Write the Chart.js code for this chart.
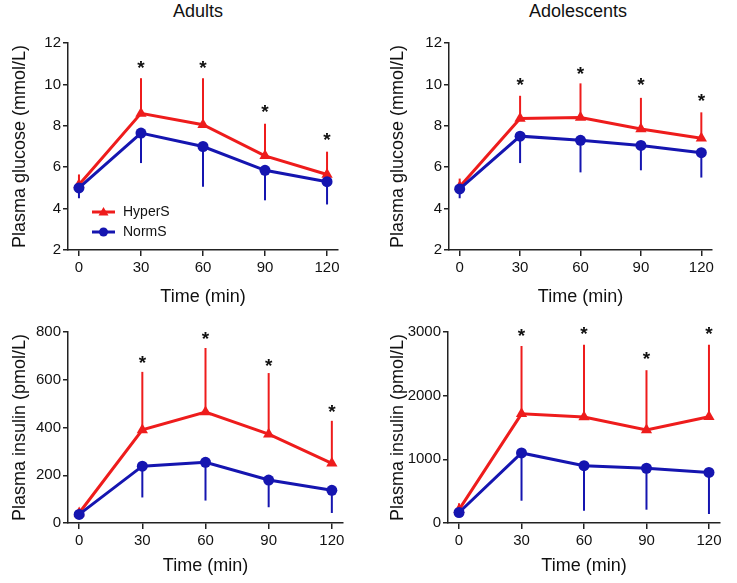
<!DOCTYPE html>
<html><head><meta charset="utf-8">
<script src="https://cdn.jsdelivr.net/npm/chart.js@4.4.0/dist/chart.umd.min.js"></script>
<style>
body{margin:0;background:#fff;}
#wrap{position:relative;width:737px;height:583px;overflow:hidden;font-family:"Liberation Sans",Arial,sans-serif;background:#fff;}
.t{position:absolute;top:0;width:200px;text-align:center;font-size:18px;line-height:22px;color:#111;}
canvas{position:absolute;}
</style></head><body>
<div id="wrap">
<div class="t" style="left:98px">Adults</div>
<div class="t" style="left:478px">Adolescents</div>
<canvas id="c1" style="left:0px;top:30px;width:370px;height:290px" width="370" height="290"></canvas>
<canvas id="c2" style="left:370px;top:30px;width:367px;height:290px" width="367" height="290"></canvas>
<canvas id="c3" style="left:0px;top:320px;width:370px;height:263px" width="370" height="263"></canvas>
<canvas id="c4" style="left:370px;top:320px;width:367px;height:263px" width="367" height="263"></canvas>
</div>
<script>
// ---- data ----
const times = [0, 30, 60, 90, 120];
const starTimes = [30, 60, 90, 120];
const seriesNames = ["HyperS", "NormS"];

// Adults glucose (mmol/L)
const adultGluHyper = [5.15, 8.6, 8.05, 6.55, 5.65];
const adultGluHyperSD = [0.5, 1.7, 2.25, 1.55, 1.1];
const adultGluNorm = [5.0, 7.65, 7.0, 5.85, 5.3];
const adultGluNormSD = [0.5, 1.45, 1.95, 1.45, 1.1];
const adultGluStars = [11.05, 11.05, 8.9, 7.55];

// Adolescents glucose (mmol/L)
const adolGluHyper = [5.05, 8.35, 8.4, 7.85, 7.4];
const adolGluHyperSD = [0.4, 1.1, 1.65, 1.5, 1.25];
const adolGluNorm = [4.95, 7.5, 7.3, 7.05, 6.7];
const adolGluNormSD = [0.45, 1.3, 1.55, 1.2, 1.2];
const adolGluStars = [10.2, 10.75, 10.2, 9.45];

// Adults insulin (pmol/L)
const adultInsHyper = [42, 390, 465, 372, 250];
const adultInsHyperSD = [15, 243, 268, 256, 178];
const adultInsNorm = [36, 238, 254, 180, 137];
const adultInsNormSD = [10, 131, 160, 114, 95];
const adultInsStars = [690, 790, 677, 487];

// Adolescents insulin (pmol/L)
const adolInsHyper = [210, 1715, 1665, 1460, 1670];
const adolInsHyperSD = [100, 1065, 1135, 940, 1130];
const adolInsNorm = [165, 1100, 900, 860, 795];
const adolInsNormSD = [70, 750, 707, 651, 654];
const adolInsStars = [3020, 3040, 2660, 3040];

// tick labels
const gluTicks = [2, 4, 6, 8, 10, 12];
const adultInsTicks = [0, 200, 400, 600, 800];
const adolInsTicks = [0, 1000, 2000, 3000];

const RED = '#ee1c1c';
const BLUE = '#1515b0';
const FONT = '"Liberation Sans", Arial, sans-serif';

const overlay = {
  id: 'overlay',
  beforeDatasetsDraw(chart, args, opts) {
    const {ctx} = chart; const x = chart.scales.x, y = chart.scales.y;
    ctx.save();
    ctx.lineWidth = 2;
    opts.bars.forEach(b => {
      ctx.strokeStyle = b.color;
      times.forEach((t, i) => {
        const px = x.getPixelForValue(t);
        ctx.beginPath();
        ctx.moveTo(px, y.getPixelForValue(b.mean[i]));
        ctx.lineTo(px, y.getPixelForValue(b.mean[i] + b.dir * b.sd[i]));
        ctx.stroke();
      });
    });
    ctx.restore();
  },
  afterDatasetsDraw(chart, args, opts) {
    const {ctx} = chart; const x = chart.scales.x, y = chart.scales.y;
    ctx.save();
    ctx.fillStyle = '#111';
    ctx.font = 'bold 19px ' + FONT;
    ctx.textAlign = 'center';
    ctx.textBaseline = 'alphabetic';
    starTimes.forEach((t, i) => {
      ctx.fillText('*', x.getPixelForValue(t), y.getPixelForValue(opts.stars[i]) + 0.58 * 19);
    });
    if (opts.legend) {
      const L = opts.legend;
      [0, 1].forEach(k => {
        const yy = L.y + k * L.dy;
        const col = k === 0 ? RED : BLUE;
        ctx.strokeStyle = col; ctx.fillStyle = col; ctx.lineWidth = 3;
        ctx.beginPath(); ctx.moveTo(L.x, yy); ctx.lineTo(L.x + L.w, yy); ctx.stroke();
        const cx = L.x + L.w / 2;
        ctx.beginPath();
        if (k === 0) {
          ctx.moveTo(cx, yy - 5); ctx.lineTo(cx + 5, yy + 3.5); ctx.lineTo(cx - 5, yy + 3.5); ctx.closePath();
        } else {
          ctx.arc(cx, yy, 4.5, 0, Math.PI * 2);
        }
        ctx.fill();
        ctx.fillStyle = '#111';
        ctx.font = '14px ' + FONT;
        ctx.textAlign = 'left'; ctx.textBaseline = 'middle';
        ctx.fillText(seriesNames[k], L.x + L.w + 8, yy);
      });
    }
    ctx.restore();
  }
};

function makeChart(id, p) {
  const pts = arr => times.map((t, i) => ({x: t, y: arr[i]}));
  return new Chart(document.getElementById(id), {
    type: 'line',
    data: {
      datasets: [
        {label: seriesNames[0], data: pts(p.hyper), borderColor: RED, backgroundColor: RED,
         borderWidth: 3, pointStyle: 'triangle', pointRadius: 6.5, pointBorderWidth: 0,
         pointBackgroundColor: RED, order: 1},
        {label: seriesNames[1], data: pts(p.norm), borderColor: BLUE, backgroundColor: BLUE,
         borderWidth: 3, pointStyle: 'circle', pointRadius: 5.5, pointBorderWidth: 0,
         pointBackgroundColor: BLUE, order: 0}
      ]
    },
    options: {
      responsive: false, animation: false, devicePixelRatio: 1,
      layout: {padding: {left: 0, right: p.padR, top: p.padT, bottom: 0}},
      plugins: {
        legend: {display: false}, tooltip: {enabled: false},
        overlay: {
          bars: [
            {mean: p.hyper, sd: p.hyperSD, dir: 1, color: RED},
            {mean: p.norm, sd: p.normSD, dir: -1, color: BLUE}
          ],
          stars: p.stars, legend: p.legend || null
        }
      },
      scales: {
        x: {
          type: 'linear', min: -5.3, max: 125.3,
          afterBuildTicks: s => { s.ticks = times.map(v => ({value: v})); },
          afterFit: s => { s.height = p.xH; },
          grid: {drawOnChartArea: false, drawTicks: true, tickLength: 6, color: '#222', lineWidth: 1.5},
          border: {display: true, color: '#222', width: 1.5},
          ticks: {color: '#111', font: {size: 15, family: FONT}, padding: 3, maxRotation: 0,
                  callback: v => String(v)},
          title: {display: true, text: 'Time (min)', color: '#111', font: {size: 18, family: FONT},
                  padding: {top: 0, bottom: p.xTitlePad}}
        },
        y: {
          type: 'linear', min: p.yMin, max: p.yMax,
          afterBuildTicks: s => { s.ticks = p.yTicks.map(v => ({value: v})); },
          afterFit: s => { s.width = p.yW; },
          grid: {drawOnChartArea: false, drawTicks: true, tickLength: 5, color: '#222', lineWidth: 1.5},
          border: {display: true, color: '#222', width: 1.5},
          ticks: {color: '#111', font: {size: 15, family: FONT}, padding: 2,
                  callback: v => String(v)},
          title: {display: true, text: p.yTitle, color: '#111', font: {size: 18, family: FONT},
                  padding: {top: p.yTitlePad, bottom: 0}}
        }
      }
    },
    plugins: [overlay]
  });
}

makeChart('c1', {hyper: adultGluHyper, hyperSD: adultGluHyperSD, norm: adultGluNorm, normSD: adultGluNormSD,
  stars: adultGluStars, yMin: 2, yMax: 12, yTicks: gluTicks, yTitle: 'Plasma glucose (mmol/L)',
  yW: 68, padR: 32, padT: 13, xH: 70, xTitlePad: 12, yTitlePad: 9,
  legend: {x: 92, y: 182, dy: 20, w: 23}});
makeChart('c2', {hyper: adolGluHyper, hyperSD: adolGluHyperSD, norm: adolGluNorm, normSD: adolGluNormSD,
  stars: adolGluStars, yMin: 2, yMax: 12, yTicks: gluTicks, yTitle: 'Plasma glucose (mmol/L)',
  yW: 79, padR: 25, padT: 13, xH: 70, xTitlePad: 12, yTitlePad: 17});
makeChart('c3', {hyper: adultInsHyper, hyperSD: adultInsHyperSD, norm: adultInsNorm, normSD: adultInsNormSD,
  stars: adultInsStars, yMin: 0, yMax: 800, yTicks: adultInsTicks, yTitle: 'Plasma insulin (pmol/L)',
  yW: 68, padR: 27, padT: 12, xH: 60, xTitlePad: 6, yTitlePad: 9});
makeChart('c4', {hyper: adolInsHyper, hyperSD: adolInsHyperSD, norm: adolInsNorm, normSD: adolInsNormSD,
  stars: adolInsStars, yMin: 0, yMax: 3000, yTicks: adolInsTicks, yTitle: 'Plasma insulin (pmol/L)',
  yW: 78, padR: 17, padT: 12, xH: 60, xTitlePad: 6, yTitlePad: 17});
</script>
</body></html>
